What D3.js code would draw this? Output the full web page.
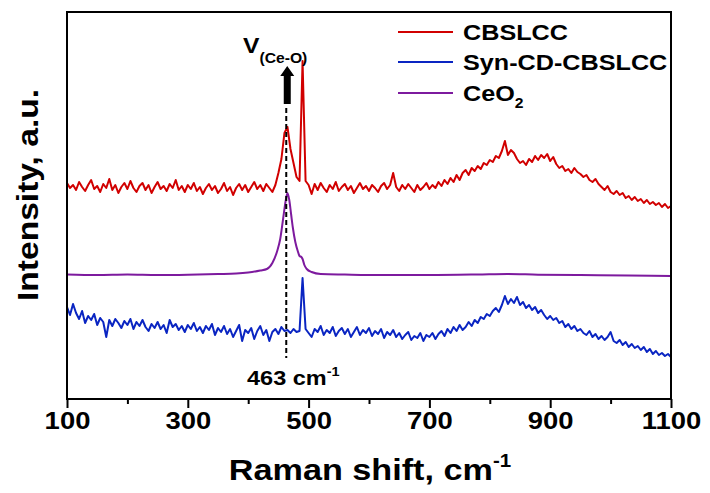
<!DOCTYPE html>
<html>
<head>
<meta charset="utf-8">
<script src="https://cdn.jsdelivr.net/npm/d3@7"></script>
<style>
  body { margin: 0; background: #fff; }
  text { font-family: "Liberation Sans", Arial, sans-serif; font-weight: bold; fill: #000; }
</style>
</head>
<body>
<svg id="chart" width="710" height="493"></svg>
<script>
// Raman shift grid (cm-1) shared by the two measured composite spectra
const shiftGrid = d3.range(100, 1101, 5);

// CBSLCC intensity (a.u., offset for stacking)
const cbslcc = [
  216, 211, 214, 209, 217, 212, 208, 214, 219, 210,
  213, 207, 215, 211, 220, 209, 214, 206, 212, 216,
  210, 218, 211, 207, 213, 216, 209, 214, 206, 212,
  217, 210, 213, 208, 215, 211, 219, 209, 213, 207,
  214, 210, 216, 208, 212, 205, 211, 215, 209, 213,
  206, 210, 216, 208, 212, 204, 211, 215, 209, 214,
  207, 212, 217, 210, 214, 208, 215, 211, 207, 214,
  226, 240, 266, 272, 250, 236, 222, 218, 338, 218,
  214, 205, 215, 209, 216, 211, 207, 214, 210, 217,
  208, 212, 215, 209, 213, 206, 211, 216, 210, 213,
  208, 214, 211, 207, 213, 216, 210, 214, 226, 212,
  208, 214, 210, 215, 211, 207, 214, 209, 212, 216,
  210, 214, 211, 217, 213, 219, 215, 221, 217, 224,
  219, 226, 229, 224, 231, 228, 233, 230, 236, 234,
  239, 237, 243, 241, 248, 258, 244, 249, 246, 240,
  236, 238, 234, 240, 237, 243, 239, 244, 241, 245,
  238, 242, 235, 231, 233, 228, 230, 226, 231, 227,
  225, 222, 224, 219, 217, 220, 215, 212, 209, 213,
  207, 205, 208, 204, 206, 201, 203, 199, 202, 198,
  200, 196, 199, 195, 197, 194, 196, 192, 195, 191,
  193
];

// Syn-CD-CBSLCC intensity (a.u., offset for stacking)
const synCdCbslcc = [
  92, 84, 95, 86, 80, 88, 76, 83, 79, 85,
  74, 81, 77, 62, 79, 73, 80, 76, 71, 78,
  74, 80, 70, 77, 73, 79, 72, 68, 75, 71,
  77, 70, 74, 66, 79, 72, 75, 69, 73, 67,
  74, 70, 76, 68, 72, 66, 73, 69, 75, 64,
  71, 67, 73, 65, 70, 62, 68, 74, 58, 69,
  66, 71, 60, 68, 73, 64, 69, 58, 67, 70,
  65, 72, 68, 69, 66, 70, 67, 68, 121, 70,
  66, 62, 70, 67, 73, 64, 69, 66, 72, 63,
  68, 71, 65, 70, 62, 67, 72, 64, 69, 66,
  71, 63, 68, 65, 70, 61, 67, 64, 69, 62,
  66, 60, 64, 67, 59, 63, 61, 66, 58, 64,
  62, 66, 60, 65, 68, 63, 70, 66, 72, 68,
  74, 69, 72, 77, 73, 79, 76, 82, 80, 85,
  83, 88, 91, 87, 94, 103, 95, 100, 96, 102,
  94, 97, 91, 94, 89, 92, 86, 89, 84, 80,
  83, 79, 81, 76, 78, 72, 75, 70, 73, 68,
  70, 66, 64, 68, 62, 65, 60, 63, 59, 62,
  67, 58, 56, 59, 54, 57, 52, 55, 51, 53,
  49, 52, 47, 50, 45, 48, 44, 46, 43, 45,
  42
];

// CeO2 reference spectrum (smooth), sampled more densely around the F2g band
const ceo2Shift = [100, 150, 200, 250, 300, 350, 380, 400, 420, 431, 440, 448, 453, 458, 462, 465,
  468, 471, 474, 478, 482, 485, 488, 490, 493, 497, 505, 520, 560, 620, 700, 780, 830, 880, 950, 1030, 1100];
const ceo2 = [124.5, 124, 124.5, 124, 124.3, 125, 125.5, 126.5, 128.5, 130, 136, 148, 160, 181, 198, 206,
  199, 185, 171, 157, 148, 143, 142, 140, 134, 130, 127, 125, 124.5, 124, 124, 124.5, 125, 124.3, 124, 123.5, 123];

const seriesNames = ["CBSLCC", "Syn-CD-CBSLCC", "CeO"];
const seriesColors = ["#d10000", "#0a25c2", "#7d1a9e"];
const xTicks = [100, 300, 500, 700, 900, 1100];
const xMinorTicks = [200, 400, 600, 800, 1000];
const peakShift = 463;

const svg = d3.select("#chart");
const plotLeft = 67, plotRight = 671, plotTop = 12, plotBottom = 399;
const x = d3.scaleLinear().domain([100, 1100]).range([plotLeft, plotRight]);
const y = d3.scaleLinear().domain([0, 387]).range([plotBottom, plotTop]);
const sx = 1.12; // horizontal glyph stretch used for the labels

// spectra
const line = d3.line().x(d => x(d[0])).y(d => y(d[1]));
const smooth = d3.line().x(d => x(d[0])).y(d => y(d[1])).curve(d3.curveMonotoneX);
const traces = [
  { pts: shiftGrid.map((s, i) => [s, cbslcc[i]]), gen: line, color: seriesColors[0] },
  { pts: shiftGrid.map((s, i) => [s, synCdCbslcc[i]]), gen: line, color: seriesColors[1] },
  { pts: ceo2Shift.map((s, i) => [s, ceo2[i]]), gen: smooth, color: seriesColors[2] }
];
svg.append("g").selectAll("path").data(traces).join("path")
  .attr("d", d => d.gen(d.pts))
  .attr("fill", "none")
  .attr("stroke", d => d.color)
  .attr("stroke-width", 2)
  .attr("stroke-linejoin", "round");

// dashed marker at the Ce-O band
svg.append("line")
  .attr("x1", x(peakShift)).attr("x2", x(peakShift))
  .attr("y1", 108).attr("y2", 358)
  .attr("stroke", "#000").attr("stroke-width", 2)
  .attr("stroke-dasharray", "5,3");

// upward arrow
const ax = x(peakShift) + 1;
svg.append("path")
  .attr("d", `M${ax},66 L${ax + 7},76 L${ax + 3.5},76 L${ax + 3.5},104 L${ax - 3.5},104 L${ax - 3.5},76 L${ax - 7},76 Z`)
  .attr("fill", "#000");

// V(Ce-O) label
const vLab = svg.append("text")
  .attr("transform", `translate(243,53) scale(${sx},1)`)
  .style("font-size", "22px");
vLab.append("tspan").text("V");
vLab.append("tspan").attr("dy", 10).style("font-size", "14px").text("(Ce-O)");

// 463 cm-1 label
const pLab = svg.append("text")
  .attr("transform", `translate(247,385) scale(${sx},1)`)
  .style("font-size", "21px");
pLab.append("tspan").text(`${peakShift} cm`);
pLab.append("tspan").attr("dy", -9).style("font-size", "13px").text("-1");

// frame
svg.append("rect")
  .attr("x", plotLeft).attr("y", plotTop)
  .attr("width", plotRight - plotLeft).attr("height", plotBottom - plotTop)
  .attr("fill", "none").attr("stroke", "#000").attr("stroke-width", 2);

// x axis: major and minor ticks
const axisMajor = svg.append("g").attr("transform", `translate(0,${plotBottom})`)
  .call(d3.axisBottom(x).tickValues(xTicks).tickSize(9).tickPadding(4).tickFormat(d3.format("d")));
axisMajor.select(".domain").remove();
axisMajor.selectAll(".tick line").attr("stroke-width", 2);
axisMajor.selectAll(".tick text")
  .style("font-size", "24.5px")
  .attr("transform", `scale(${sx},1)`);
axisMajor.attr("font-family", null).attr("font-size", null);

const axisMinor = svg.append("g").attr("transform", `translate(0,${plotBottom})`)
  .call(d3.axisBottom(x).tickValues(xMinorTicks).tickSize(5).tickFormat(""));
axisMinor.select(".domain").remove();
axisMinor.selectAll(".tick line").attr("stroke-width", 2);

// axis titles
const xt = svg.append("text")
  .attr("transform", `translate(370,480) scale(1.14,1)`)
  .attr("text-anchor", "middle")
  .style("font-size", "30px");
xt.append("tspan").text("Raman shift, cm");
xt.append("tspan").attr("dy", -13).style("font-size", "18px").text("-1");

svg.append("text")
  .attr("transform", `translate(38,195) rotate(-90) scale(${sx},1)`)
  .attr("text-anchor", "middle")
  .style("font-size", "30px")
  .text("Intensity, a.u.");

// legend
const legend = svg.append("g");
const legendY = [32, 62, 93];
seriesNames.forEach((name, i) => {
  legend.append("line")
    .attr("x1", 398).attr("x2", 453)
    .attr("y1", legendY[i]).attr("y2", legendY[i])
    .attr("stroke", seriesColors[i]).attr("stroke-width", 2);
  const t = legend.append("text")
    .attr("transform", `translate(463,${legendY[i] + 8}) scale(${sx},1)`)
    .style("font-size", "22.5px");
  t.append("tspan").text(name);
  if (i === 2) t.append("tspan").attr("dy", 7).style("font-size", "14px").text("2");
});
</script>
</body>
</html>
